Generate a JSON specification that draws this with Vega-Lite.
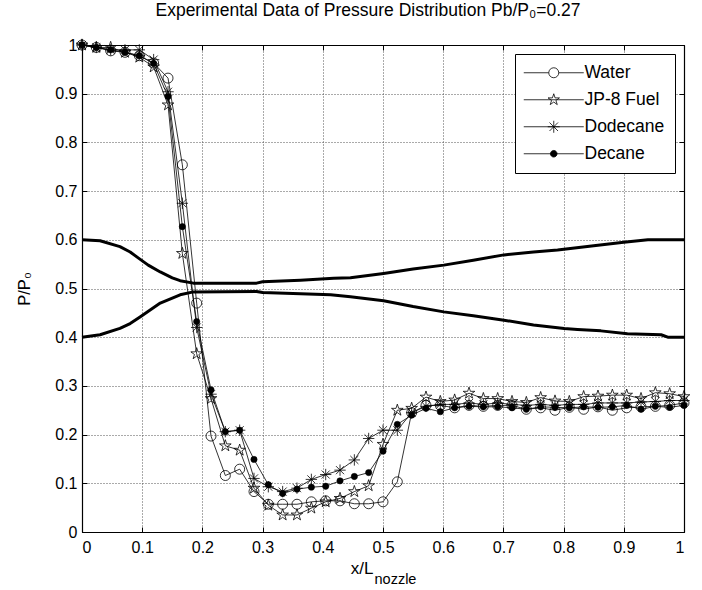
{
"$schema": "https://vega.github.io/schema/vega-lite/v6.json",
"autosize": "none",
"width": 602,
"height": 487,
"padding": {"left": 82, "top": 45, "right": 18, "bottom": 58},
"background": "white",
"title": {"text": "Experimental Data of Pressure Distribution Pb/P₀=0.27", "font": "Liberation Sans", "fontSize": 17.5, "fontWeight": "normal", "color": "black", "offset": 18, "dx": -15},
"datasets": {
"series": [
{"s":"Water","x":0,"p":1.0},{"s":"Water","x":0.0238,"p":0.995},{"s":"Water","x":0.0476,"p":0.988},{"s":"Water","x":0.0714,"p":0.985},{"s":"Water","x":0.0952,"p":0.978},{"s":"Water","x":0.119,"p":0.963},{"s":"Water","x":0.1429,"p":0.932},{"s":"Water","x":0.1667,"p":0.754},{"s":"Water","x":0.1905,"p":0.47},{"s":"Water","x":0.2143,"p":0.197},{"s":"Water","x":0.2381,"p":0.116},{"s":"Water","x":0.2619,"p":0.129},{"s":"Water","x":0.2857,"p":0.083},{"s":"Water","x":0.3095,"p":0.057},{"s":"Water","x":0.3333,"p":0.057},{"s":"Water","x":0.3571,"p":0.057},{"s":"Water","x":0.381,"p":0.062},{"s":"Water","x":0.4048,"p":0.064},{"s":"Water","x":0.4286,"p":0.064},{"s":"Water","x":0.4524,"p":0.058},{"s":"Water","x":0.4762,"p":0.058},{"s":"Water","x":0.5,"p":0.062},{"s":"Water","x":0.5238,"p":0.103},{"s":"Water","x":0.5476,"p":0.245},{"s":"Water","x":0.5714,"p":0.26},{"s":"Water","x":0.5952,"p":0.26},{"s":"Water","x":0.619,"p":0.255},{"s":"Water","x":0.6429,"p":0.26},{"s":"Water","x":0.6667,"p":0.258},{"s":"Water","x":0.6905,"p":0.26},{"s":"Water","x":0.7143,"p":0.26},{"s":"Water","x":0.7381,"p":0.252},{"s":"Water","x":0.7619,"p":0.255},{"s":"Water","x":0.7857,"p":0.25},{"s":"Water","x":0.8095,"p":0.256},{"s":"Water","x":0.8333,"p":0.252},{"s":"Water","x":0.8571,"p":0.257},{"s":"Water","x":0.881,"p":0.25},{"s":"Water","x":0.9048,"p":0.255},{"s":"Water","x":0.9286,"p":0.257},{"s":"Water","x":0.9524,"p":0.258},{"s":"Water","x":0.9762,"p":0.26},{"s":"Water","x":1,"p":0.265},
{"s":"JP-8 Fuel","x":0,"p":1.0},{"s":"JP-8 Fuel","x":0.0238,"p":0.995},{"s":"JP-8 Fuel","x":0.0476,"p":0.995},{"s":"JP-8 Fuel","x":0.0714,"p":0.985},{"s":"JP-8 Fuel","x":0.0952,"p":0.975},{"s":"JP-8 Fuel","x":0.119,"p":0.955},{"s":"JP-8 Fuel","x":0.1429,"p":0.877},{"s":"JP-8 Fuel","x":0.1667,"p":0.572},{"s":"JP-8 Fuel","x":0.1905,"p":0.366},{"s":"JP-8 Fuel","x":0.2143,"p":0.274},{"s":"JP-8 Fuel","x":0.2381,"p":0.177},{"s":"JP-8 Fuel","x":0.2619,"p":0.168},{"s":"JP-8 Fuel","x":0.2857,"p":0.09},{"s":"JP-8 Fuel","x":0.3095,"p":0.055},{"s":"JP-8 Fuel","x":0.3333,"p":0.035},{"s":"JP-8 Fuel","x":0.3571,"p":0.035},{"s":"JP-8 Fuel","x":0.381,"p":0.049},{"s":"JP-8 Fuel","x":0.4048,"p":0.062},{"s":"JP-8 Fuel","x":0.4286,"p":0.069},{"s":"JP-8 Fuel","x":0.4524,"p":0.083},{"s":"JP-8 Fuel","x":0.4762,"p":0.095},{"s":"JP-8 Fuel","x":0.5,"p":0.18},{"s":"JP-8 Fuel","x":0.5238,"p":0.25},{"s":"JP-8 Fuel","x":0.5476,"p":0.254},{"s":"JP-8 Fuel","x":0.5714,"p":0.277},{"s":"JP-8 Fuel","x":0.5952,"p":0.268},{"s":"JP-8 Fuel","x":0.619,"p":0.271},{"s":"JP-8 Fuel","x":0.6429,"p":0.285},{"s":"JP-8 Fuel","x":0.6667,"p":0.274},{"s":"JP-8 Fuel","x":0.6905,"p":0.274},{"s":"JP-8 Fuel","x":0.7143,"p":0.268},{"s":"JP-8 Fuel","x":0.7381,"p":0.266},{"s":"JP-8 Fuel","x":0.7619,"p":0.276},{"s":"JP-8 Fuel","x":0.7857,"p":0.269},{"s":"JP-8 Fuel","x":0.8095,"p":0.268},{"s":"JP-8 Fuel","x":0.8333,"p":0.278},{"s":"JP-8 Fuel","x":0.8571,"p":0.279},{"s":"JP-8 Fuel","x":0.881,"p":0.281},{"s":"JP-8 Fuel","x":0.9048,"p":0.281},{"s":"JP-8 Fuel","x":0.9286,"p":0.274},{"s":"JP-8 Fuel","x":0.9524,"p":0.286},{"s":"JP-8 Fuel","x":0.9762,"p":0.284},{"s":"JP-8 Fuel","x":1,"p":0.278},
{"s":"Dodecane","x":0,"p":1.0},{"s":"Dodecane","x":0.0238,"p":0.995},{"s":"Dodecane","x":0.0476,"p":0.99},{"s":"Dodecane","x":0.0714,"p":0.99},{"s":"Dodecane","x":0.0952,"p":0.99},{"s":"Dodecane","x":0.119,"p":0.97},{"s":"Dodecane","x":0.1429,"p":0.904},{"s":"Dodecane","x":0.1667,"p":0.675},{"s":"Dodecane","x":0.1905,"p":0.42},{"s":"Dodecane","x":0.2143,"p":0.283},{"s":"Dodecane","x":0.2381,"p":0.206},{"s":"Dodecane","x":0.2619,"p":0.209},{"s":"Dodecane","x":0.2857,"p":0.11},{"s":"Dodecane","x":0.3095,"p":0.093},{"s":"Dodecane","x":0.3333,"p":0.083},{"s":"Dodecane","x":0.3571,"p":0.09},{"s":"Dodecane","x":0.381,"p":0.108},{"s":"Dodecane","x":0.4048,"p":0.118},{"s":"Dodecane","x":0.4286,"p":0.127},{"s":"Dodecane","x":0.4524,"p":0.148},{"s":"Dodecane","x":0.4762,"p":0.192},{"s":"Dodecane","x":0.5,"p":0.209},{"s":"Dodecane","x":0.5238,"p":0.209},{"s":"Dodecane","x":0.5476,"p":0.245},{"s":"Dodecane","x":0.5714,"p":0.258},{"s":"Dodecane","x":0.5952,"p":0.262},{"s":"Dodecane","x":0.619,"p":0.262},{"s":"Dodecane","x":0.6429,"p":0.265},{"s":"Dodecane","x":0.6667,"p":0.262},{"s":"Dodecane","x":0.6905,"p":0.265},{"s":"Dodecane","x":0.7143,"p":0.262},{"s":"Dodecane","x":0.7381,"p":0.26},{"s":"Dodecane","x":0.7619,"p":0.262},{"s":"Dodecane","x":0.7857,"p":0.26},{"s":"Dodecane","x":0.8095,"p":0.262},{"s":"Dodecane","x":0.8333,"p":0.262},{"s":"Dodecane","x":0.8571,"p":0.265},{"s":"Dodecane","x":0.881,"p":0.265},{"s":"Dodecane","x":0.9048,"p":0.265},{"s":"Dodecane","x":0.9286,"p":0.267},{"s":"Dodecane","x":0.9524,"p":0.268},{"s":"Dodecane","x":0.9762,"p":0.27},{"s":"Dodecane","x":1,"p":0.27},
{"s":"Decane","x":0,"p":1.0},{"s":"Decane","x":0.0238,"p":0.995},{"s":"Decane","x":0.0476,"p":0.99},{"s":"Decane","x":0.0714,"p":0.985},{"s":"Decane","x":0.0952,"p":0.978},{"s":"Decane","x":0.119,"p":0.962},{"s":"Decane","x":0.1429,"p":0.894},{"s":"Decane","x":0.1667,"p":0.627},{"s":"Decane","x":0.1905,"p":0.432},{"s":"Decane","x":0.2143,"p":0.292},{"s":"Decane","x":0.2381,"p":0.206},{"s":"Decane","x":0.2619,"p":0.209},{"s":"Decane","x":0.2857,"p":0.149},{"s":"Decane","x":0.3095,"p":0.097},{"s":"Decane","x":0.3333,"p":0.079},{"s":"Decane","x":0.3571,"p":0.088},{"s":"Decane","x":0.381,"p":0.092},{"s":"Decane","x":0.4048,"p":0.094},{"s":"Decane","x":0.4286,"p":0.105},{"s":"Decane","x":0.4524,"p":0.114},{"s":"Decane","x":0.4762,"p":0.122},{"s":"Decane","x":0.5,"p":0.166},{"s":"Decane","x":0.5238,"p":0.221},{"s":"Decane","x":0.5476,"p":0.24},{"s":"Decane","x":0.5714,"p":0.254},{"s":"Decane","x":0.5952,"p":0.247},{"s":"Decane","x":0.619,"p":0.255},{"s":"Decane","x":0.6429,"p":0.258},{"s":"Decane","x":0.6667,"p":0.257},{"s":"Decane","x":0.6905,"p":0.257},{"s":"Decane","x":0.7143,"p":0.255},{"s":"Decane","x":0.7381,"p":0.252},{"s":"Decane","x":0.7619,"p":0.257},{"s":"Decane","x":0.7857,"p":0.256},{"s":"Decane","x":0.8095,"p":0.255},{"s":"Decane","x":0.8333,"p":0.257},{"s":"Decane","x":0.8571,"p":0.256},{"s":"Decane","x":0.881,"p":0.257},{"s":"Decane","x":0.9048,"p":0.26},{"s":"Decane","x":0.9286,"p":0.252},{"s":"Decane","x":0.9524,"p":0.258},{"s":"Decane","x":0.9762,"p":0.256},{"s":"Decane","x":1,"p":0.26}
],
"nozzle": [
{"side":"upper","x":0,"p":0.6},{"side":"upper","x":0.03,"p":0.598},{"side":"upper","x":0.063,"p":0.586},{"side":"upper","x":0.08,"p":0.575},{"side":"upper","x":0.091,"p":0.565},{"side":"upper","x":0.11,"p":0.548},{"side":"upper","x":0.13,"p":0.534},{"side":"upper","x":0.15,"p":0.522},{"side":"upper","x":0.163,"p":0.516},{"side":"upper","x":0.185,"p":0.511},{"side":"upper","x":0.29,"p":0.511},{"side":"upper","x":0.3,"p":0.514},{"side":"upper","x":0.363,"p":0.517},{"side":"upper","x":0.418,"p":0.521},{"side":"upper","x":0.446,"p":0.522},{"side":"upper","x":0.501,"p":0.531},{"side":"upper","x":0.55,"p":0.54},{"side":"upper","x":0.601,"p":0.548},{"side":"upper","x":0.65,"p":0.558},{"side":"upper","x":0.701,"p":0.569},{"side":"upper","x":0.75,"p":0.575},{"side":"upper","x":0.79,"p":0.579},{"side":"upper","x":0.85,"p":0.588},{"side":"upper","x":0.9,"p":0.595},{"side":"upper","x":0.94,"p":0.6},{"side":"upper","x":1,"p":0.6},
{"side":"lower","x":0,"p":0.4},{"side":"lower","x":0.03,"p":0.405},{"side":"lower","x":0.063,"p":0.418},{"side":"lower","x":0.08,"p":0.428},{"side":"lower","x":0.097,"p":0.442},{"side":"lower","x":0.13,"p":0.47},{"side":"lower","x":0.163,"p":0.487},{"side":"lower","x":0.185,"p":0.493},{"side":"lower","x":0.29,"p":0.494},{"side":"lower","x":0.3,"p":0.492},{"side":"lower","x":0.363,"p":0.489},{"side":"lower","x":0.413,"p":0.487},{"side":"lower","x":0.446,"p":0.483},{"side":"lower","x":0.501,"p":0.475},{"side":"lower","x":0.55,"p":0.463},{"side":"lower","x":0.601,"p":0.452},{"side":"lower","x":0.65,"p":0.444},{"side":"lower","x":0.701,"p":0.435},{"side":"lower","x":0.75,"p":0.425},{"side":"lower","x":0.801,"p":0.418},{"side":"lower","x":0.823,"p":0.416},{"side":"lower","x":0.862,"p":0.413},{"side":"lower","x":0.906,"p":0.407},{"side":"lower","x":0.962,"p":0.405},{"side":"lower","x":0.973,"p":0.4},{"side":"lower","x":1,"p":0.4}
]
},
"resolve": {"axis": {"x": "independent", "y": "independent"}},
"layer": [
{
"data": {"name": "nozzle"},
"mark": {"type": "line", "color": "black", "strokeWidth": 3, "strokeJoin": "round"},
"encoding": {
"x": {"field": "x", "type": "quantitative", "scale": {"domain": [0, 1], "nice": false, "zero": false},
 "axis": {"orient": "bottom", "values": [0,0.1,0.2,0.3,0.4,0.5,0.6,0.7,0.8,0.9,1], "format": "~g", "grid": true, "gridDash": [1,2], "gridColor": "#555", "tickSize": -5, "labelPadding": 12, "title": "x/L", "titleFontSize": 17, "titleX": 291, "titleY": 41, "titleAlign": "right", "titleBaseline": "alphabetic", "titleAnchor": null}},
"y": {"field": "p", "type": "quantitative", "scale": {"domain": [0, 1], "nice": false, "zero": false},
 "axis": {"orient": "left", "values": [0,0.1,0.2,0.3,0.4,0.5,0.6,0.7,0.8,0.9,1], "format": "~g", "grid": true, "gridDash": [1,2], "gridColor": "#555", "tickSize": -5, "labelPadding": 10, "title": "P/P₀", "titleFontSize": 16.5, "titleX": -53, "titleY": 243.5, "titleAngle": -90, "titleAlign": "center", "titleBaseline": "alphabetic"}},
"detail": {"field": "side"}
}
},
{
"data": {"name": "series"},
"mark": {"type": "line", "color": "black", "strokeWidth": 0.8},
"encoding": {
"x": {"field": "x", "type": "quantitative", "axis": {"orient": "top", "values": [0,0.1,0.2,0.3,0.4,0.5,0.6,0.7,0.8,0.9,1], "labels": false, "grid": false, "tickSize": -5, "title": null}},
"y": {"field": "p", "type": "quantitative", "axis": {"orient": "right", "values": [0,0.1,0.2,0.3,0.4,0.5,0.6,0.7,0.8,0.9,1], "labels": false, "grid": false, "tickSize": -5, "title": null}},
"detail": {"field": "s"}
}
},
{
"data": {"name": "series"},
"transform": [{"filter": "datum.s === 'Water'"}],
"mark": {"type": "point", "shape": "circle", "stroke": "black", "strokeWidth": 0.8, "filled": false, "size": 100, "opacity": 1},
"encoding": {
"x": {"field": "x", "type": "quantitative", "axis": {"orient": "bottom", "labels": false, "ticks": false, "domain": false, "grid": false, "title": "nozzle", "titleFontSize": 14.5, "titleX": 292, "titleY": 51, "titleAlign": "left", "titleBaseline": "alphabetic", "titleAnchor": null}},
"y": {"field": "p", "type": "quantitative", "axis": null}
}
},
{
"data": {"name": "series"},
"transform": [{"filter": "datum.s === 'JP-8 Fuel'"}],
"mark": {"type": "point", "shape": "M0,-1L0.2234,-0.3074L0.951,-0.309L0.3614,0.1174L0.5878,0.809L0,0.38L-0.5878,0.809L-0.3614,0.1174L-0.951,-0.309L-0.2234,-0.3074Z", "stroke": "black", "strokeWidth": 0.8, "filled": false, "size": 150, "opacity": 1},
"encoding": {
"x": {"field": "x", "type": "quantitative", "axis": null},
"y": {"field": "p", "type": "quantitative", "axis": null}
}
},
{
"data": {"name": "series"},
"transform": [{"filter": "datum.s === 'Dodecane'"}],
"mark": {"type": "point", "shape": "M0,-1L0,1M-1,0L1,0M-0.71,-0.71L0.71,0.71M-0.71,0.71L0.71,-0.71", "stroke": "black", "strokeWidth": 0.8, "filled": false, "size": 130, "opacity": 1},
"encoding": {
"x": {"field": "x", "type": "quantitative", "axis": null},
"y": {"field": "p", "type": "quantitative", "axis": null}
}
},
{
"data": {"name": "series"},
"transform": [{"filter": "datum.s === 'Decane'"}],
"mark": {"type": "point", "shape": "circle", "fill": "black", "stroke": "black", "strokeWidth": 0.5, "filled": true, "size": 40, "opacity": 1},
"encoding": {
"x": {"field": "x", "type": "quantitative", "axis": null},
"y": {"field": "p", "type": "quantitative", "axis": null}
}
},
{
"data": {"name": "series"},
"mark": {"type": "point", "strokeWidth": 0.8, "filled": true, "size": 0, "opacity": 1},
"encoding": {
"x": {"field": "x", "type": "quantitative", "axis": null},
"y": {"field": "p", "type": "quantitative", "axis": null},
"shape": {"field": "s", "type": "nominal",
 "scale": {"domain": ["Water","JP-8 Fuel","Dodecane","Decane"], "range": ["M-2,0L3,0M5,0L10,0M5,0A1,1 0 1,1 3,0A1,1 0 1,1 5,0", "M-2,0L10,0M4,-1.2L4.268,-0.369L5.141,-0.371L4.434,0.141L4.705,0.971L4,0.456L3.295,0.971L3.566,0.141L2.859,-0.371L3.732,-0.369Z", "M-2,0L10,0M4,-1.2L4,1.2M2.8,0L5.2,0M3.15,-0.85L4.85,0.85M3.15,0.85L4.85,-0.85", "M-2,0L10,0M4.66,0A0.66,0.66 0 1,1 3.34,0A0.66,0.66 0 1,1 4.66,0"]},
 "legend": {"orient": "none", "legendX": 433, "legendY": 9, "title": null, "padding": 10, "strokeColor": "black", "fillColor": "white", "cornerRadius": 0, "labelFont": "Liberation Sans", "labelFontSize": 17.5, "labelColor": "black", "symbolSize": 100, "symbolOpacity": 1, "symbolStrokeWidth": 0.8, "labelOffset": 42, "rowPadding": 8}},
"fill": {"field": "s", "type": "nominal",
 "scale": {"domain": ["Water","JP-8 Fuel","Dodecane","Decane"], "range": ["transparent", "transparent", "transparent", "black"]},
 "legend": {"orient": "none", "legendX": 433, "legendY": 9, "title": null, "padding": 10, "strokeColor": "black", "fillColor": "white", "cornerRadius": 0, "labelFont": "Liberation Sans", "labelFontSize": 17.5, "labelColor": "black", "symbolSize": 100, "symbolOpacity": 1, "symbolStrokeWidth": 0.8, "labelOffset": 42, "rowPadding": 8}},
"stroke": {"field": "s", "type": "nominal",
 "scale": {"domain": ["Water","JP-8 Fuel","Dodecane","Decane"], "range": ["black", "black", "black", "black"]},
 "legend": {"orient": "none", "legendX": 433, "legendY": 9, "title": null, "padding": 10, "strokeColor": "black", "fillColor": "white", "cornerRadius": 0, "labelFont": "Liberation Sans", "labelFontSize": 17.5, "labelColor": "black", "symbolSize": 100, "symbolOpacity": 1, "symbolStrokeWidth": 0.8, "labelOffset": 42, "rowPadding": 8}}
}
}
],
"config": {
"font": "Liberation Sans",
"view": {"stroke": "black", "strokeWidth": 1},
"axis": {"labelFont": "Liberation Sans", "labelFontSize": 16, "labelColor": "black", "titleFont": "Liberation Sans", "titleFontSize": 16, "titleFontWeight": "normal", "titleColor": "black", "tickColor": "black", "domainColor": "black", "domainWidth": 1.2, "labelAngle": 0}
}
}
